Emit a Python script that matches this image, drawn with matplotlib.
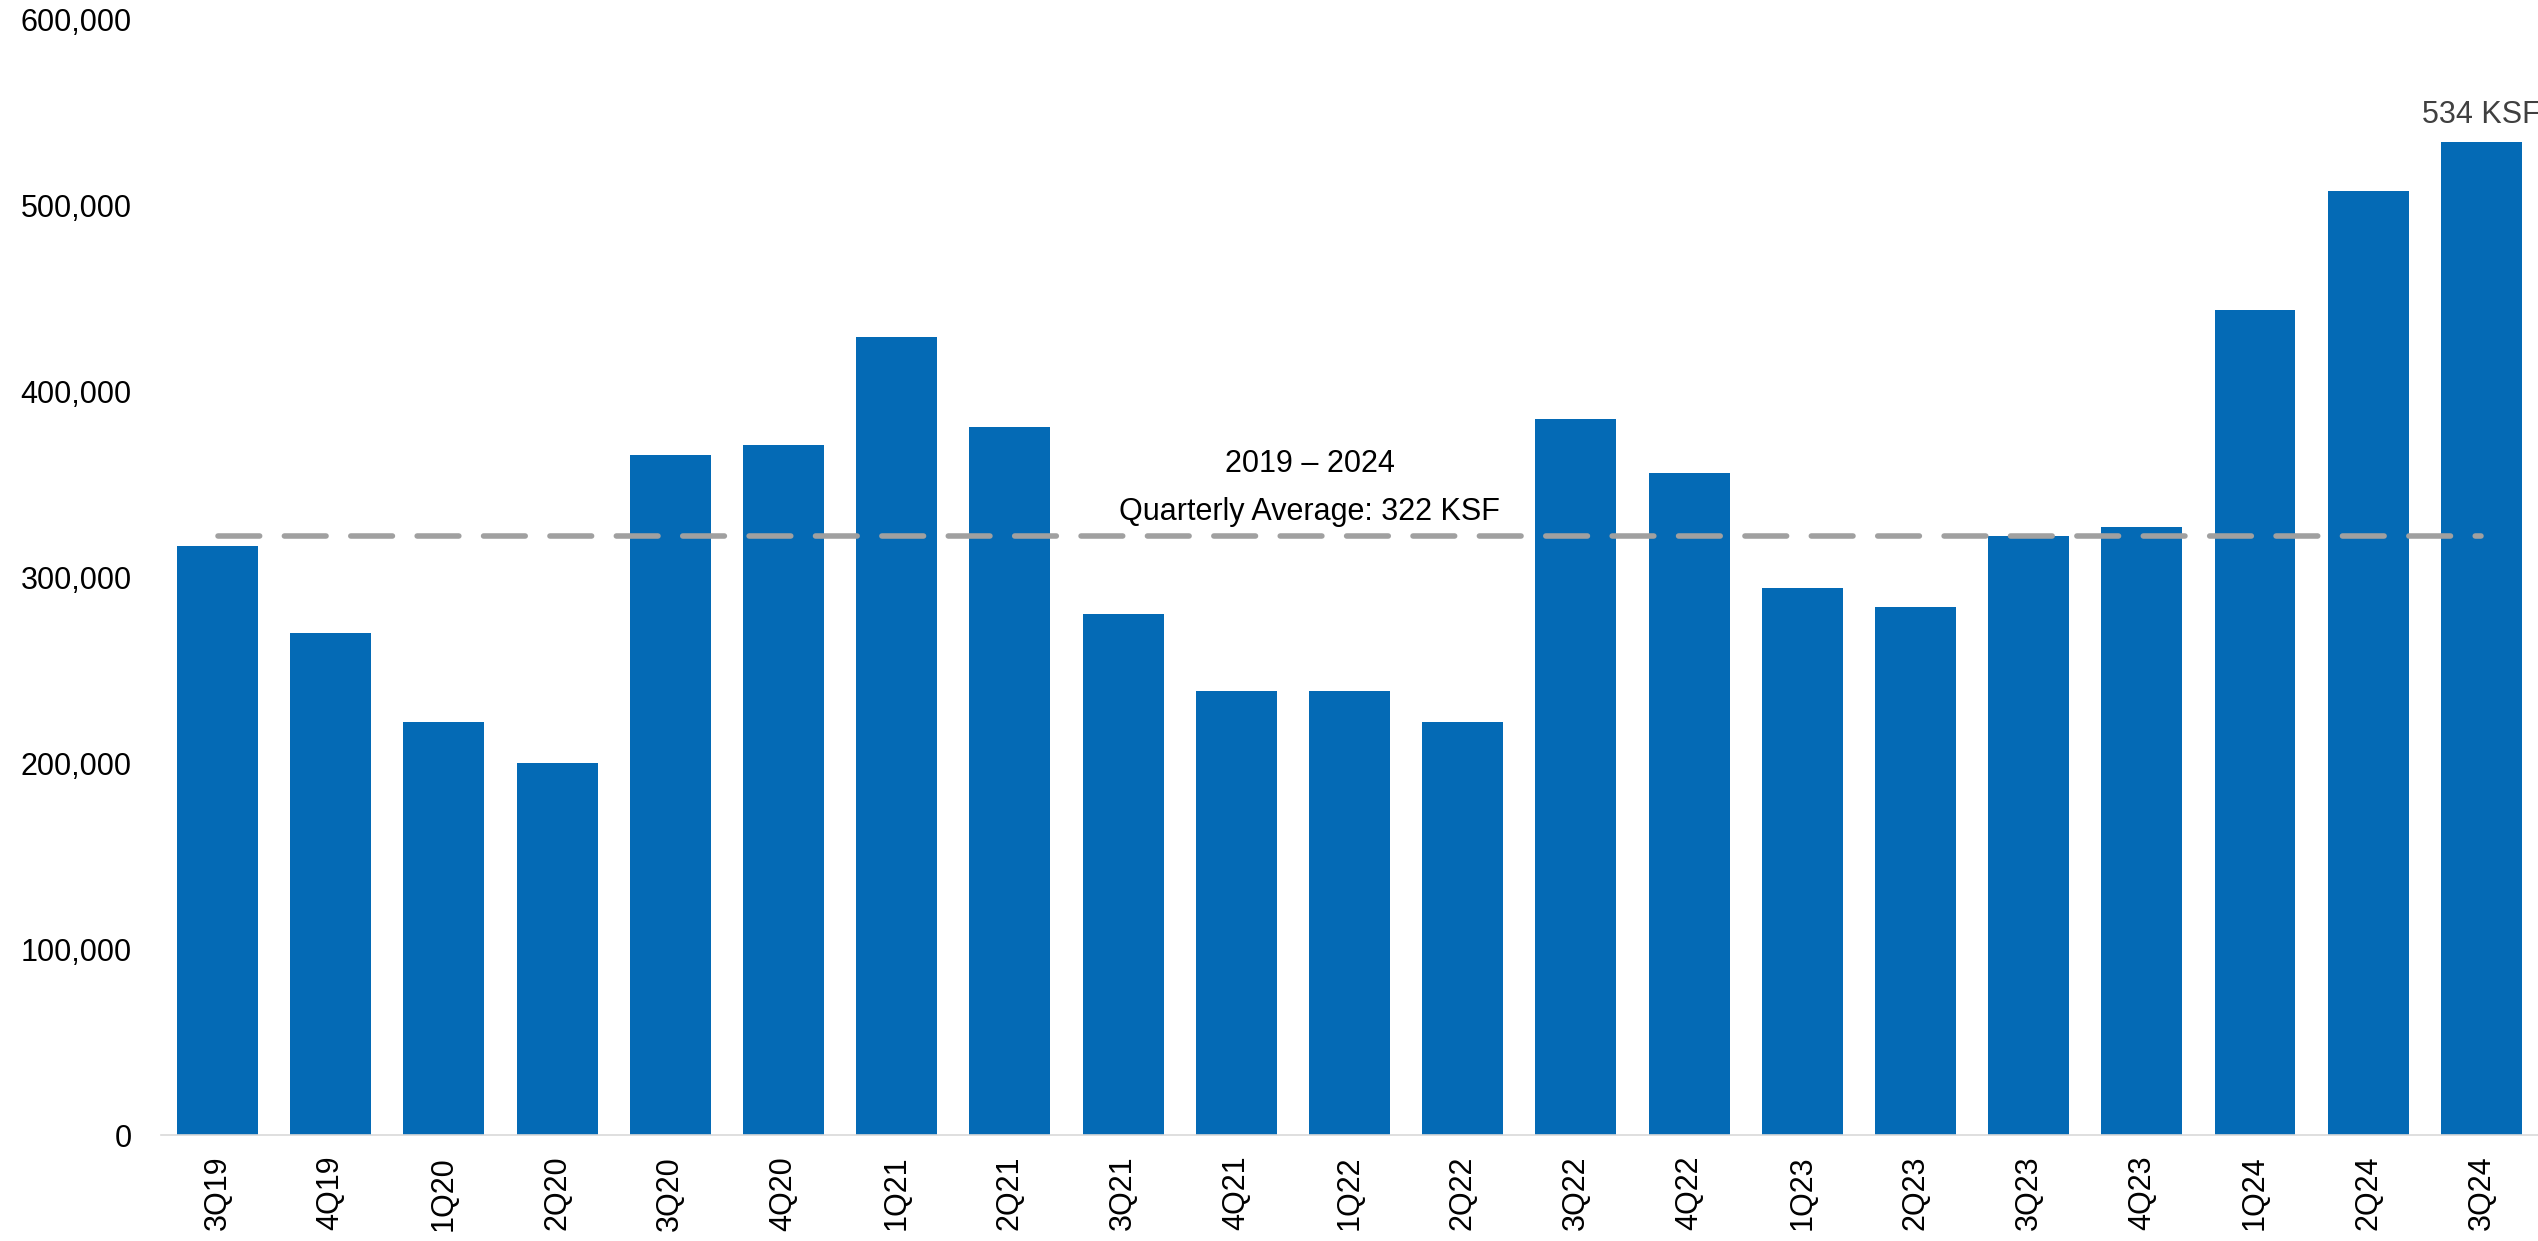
import numpy as np
import matplotlib
matplotlib.use("Agg")
import matplotlib.pyplot as plt
from matplotlib.ticker import FuncFormatter

plt.rcParams['font.family'] = ['Liberation Sans', 'DejaVu Sans']

quarters = ["3Q19", "4Q19", "1Q20", "2Q20", "3Q20", "4Q20", "1Q21", "2Q21",
            "3Q21", "4Q21", "1Q22", "2Q22", "3Q22", "4Q22", "1Q23", "2Q23",
            "3Q23", "4Q23", "1Q24", "2Q24", "3Q24"]
absorption_sf = [317000, 270000, 222000, 200000, 366000, 371000, 429000, 381000,
                 280000, 239000, 239000, 222000, 385000, 356000, 294000, 284000,
                 322000, 327000, 444000, 508000, 534000]
quarterly_avg = 322000

fig = plt.figure(figsize=(25.38, 12.41), dpi=100)
ax = fig.add_axes([0.0634, 0.0854, 0.9366, 0.8989])

x = np.arange(len(quarters))
ax.bar(x, absorption_sf, width=0.715, color="#046AB5", zorder=2)

# average line across the full period
ax.plot(x, [quarterly_avg] * len(quarters), color="#A0A0A0", lw=4.0,
        dashes=(7.5, 4.45), dash_capstyle="round", solid_capstyle="round", zorder=3)

ax.text(9.65, 361000, "2019 \u2013 2024", ha="center", va="center", fontsize=22, color="black")
ax.text(9.65, 335000, "Quarterly Average: 322 KSF", ha="center", va="center",
        fontsize=22, color="black")

# label the latest quarter
ax.annotate(f"{absorption_sf[-1] // 1000} KSF", xy=(x[-1], absorption_sf[-1]),
            xytext=(0, 13.5), textcoords="offset points", ha="center", va="baseline",
            fontsize=22, color="#404040", annotation_clip=False)

ax.set_xlim(-0.5, len(quarters) - 0.5)
ax.set_ylim(0, 600000)
ax.set_yticks(np.arange(0, 600001, 100000))
ax.yaxis.set_major_formatter(FuncFormatter(lambda v, p: f"{int(v):,}"))
ax.set_xticks(x)
ax.set_xticklabels(quarters, rotation=90)

ax.tick_params(axis="y", length=0, pad=21, labelsize=22)
ax.tick_params(axis="x", length=0, pad=15, labelsize=22)

for s in ["top", "right", "left"]:
    ax.spines[s].set_visible(False)
ax.spines["bottom"].set_color("#D9D9D9")
ax.spines["bottom"].set_linewidth(1.2)

fig.savefig("out.png", dpi=100)
